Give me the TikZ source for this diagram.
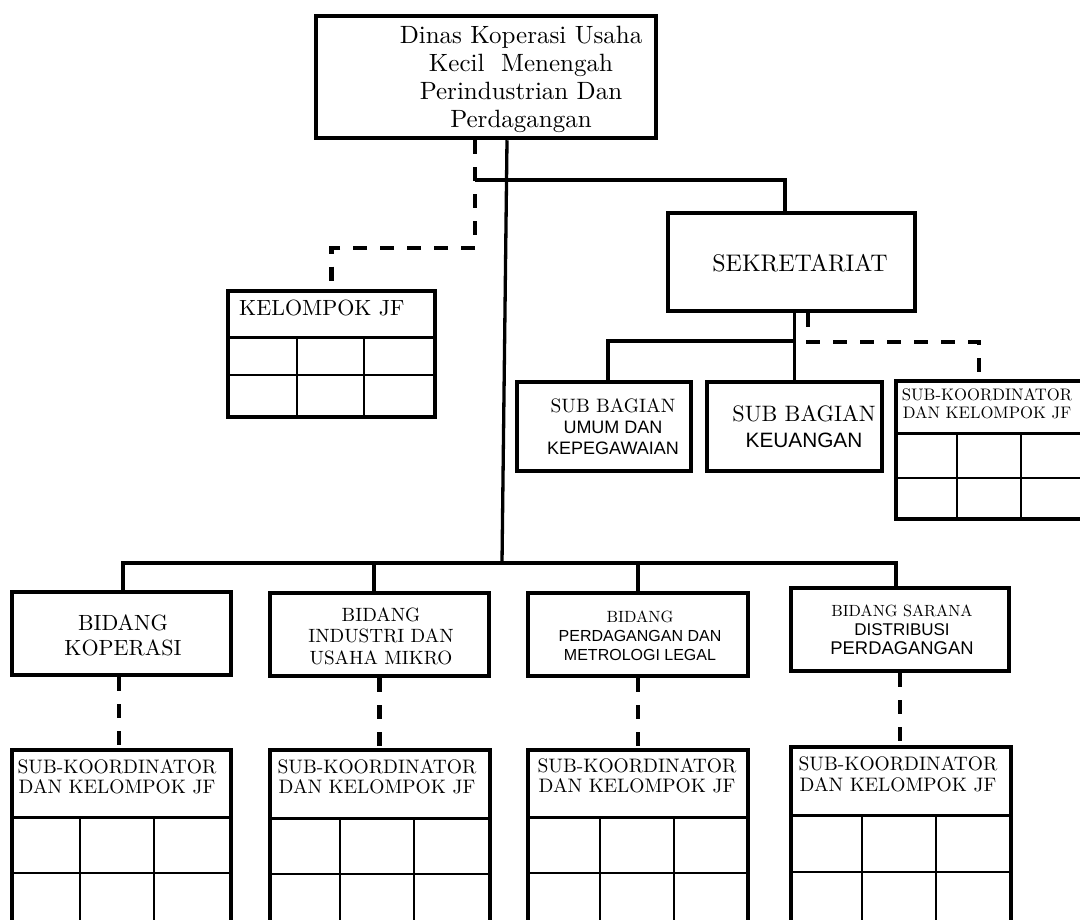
\documentclass[tikz,border=0pt]{standalone}
\usepackage{fontspec}
\setmainfont{lmroman10-regular.otf}
\setsansfont{Liberation Sans}

\tikzset{
  unitbox/.style={draw, line width=4pt, inner sep=0pt},
  boxtext/.style={align=center, inner sep=0pt},
  link/.style={line width=3.3pt},
  jflink/.style={line width=4.5pt, dash pattern=on 14pt off 13pt},
  headline/.style={line width=3pt},
  cellline/.style={line width=2pt}
}

\begin{document}
\begin{tikzpicture}[x=1pt, y=-1pt]

            \useasboundingbox (0,0) rectangle (1080,920);
            \fill[white] (0,0) rectangle (1080,920);

            \node[unitbox, line width=4.5pt, minimum width=340pt, minimum height=122pt] (dinas) at (486,77) {};
            \node[boxtext, font=\fontsize{25}{28}\selectfont] (dinasT) at (521,79) {Dinas Koperasi Usaha\\Kecil\ \ Menengah\\Perindustrian Dan\\Perdagangan};

            \node[unitbox, minimum width=247pt, minimum height=98pt] (sek) at (791.5,262) {};
            \node[boxtext, font=\fontsize{24}{28}\selectfont] (sekT) at (800,263) {SEKRETARIAT};

            \node[unitbox, minimum width=207pt, minimum height=126pt] (kjf) at (331.5,354) {};
            \node[boxtext, anchor=west, font=\fontsize{22}{24}\selectfont] (kjfT) at (239,308) {KELOMPOK JF};
            \draw[headline] (228,338) -- (435,338);
            \draw[cellline] (228,375) -- (435,375);
            \draw[cellline] (297,338) -- (297,417);
            \draw[cellline] (364,338) -- (364,417);

            \node[unitbox, minimum width=174pt, minimum height=89pt] (sbUmum) at (604,426.5) {};
            \node[boxtext, font=\fontsize{18}{21}\selectfont] (sbUmumT) at (613,427) {\fontsize{19.4}{21}\selectfont SUB BAGIAN\\\sffamily UMUM DAN\\\sffamily KEPEGAWAIAN};

            \node[unitbox, minimum width=175pt, minimum height=89pt] (sbKeu) at (794.5,426.5) {};
            \node[boxtext, font=\fontsize{22.3}{26}\selectfont] (sbKeuT) at (804,427) {SUB BAGIAN\\\sffamily\fontsize{20.8}{26}\selectfont KEUANGAN};

            \node[unitbox, minimum width=190pt, minimum height=138pt] (skSek) at (991,450) {};
            \node[boxtext, font=\fontsize{16.7}{18}\selectfont] (skSekT) at (987,404) {SUB-KOORDINATOR\\DAN KELOMPOK JF};
            \draw[headline] (896,433) -- (1086,433);
            \draw[cellline] (896,478) -- (1086,478);
            \draw[cellline] (957,433) -- (957,519);
            \draw[cellline] (1021,433) -- (1021,519);

            \node[unitbox, minimum width=219pt, minimum height=83pt] (bKop) at (121.5,633.5) {};
            \node[boxtext, font=\fontsize{22}{25}\selectfont] (bKopT) at (123,635) {BIDANG\\KOPERASI};

            \node[unitbox, minimum width=219pt, minimum height=83pt] (bInd) at (379.5,634.5) {};
            \node[boxtext, font=\fontsize{19.2}{21.5}\selectfont] (bIndT) at (381,636) {BIDANG\\INDUSTRI DAN\\USAHA MIKRO};

            \node[unitbox, minimum width=220pt, minimum height=83pt] (bDag) at (638,634.5) {};
            \node[boxtext, font=\fontsize{16.3}{19}\selectfont] (bDagT) at (640,636) {BIDANG\\\sffamily\fontsize{16}{19}\selectfont PERDAGANGAN DAN\\\sffamily\fontsize{16}{19}\selectfont METROLOGI LEGAL};

            \node[unitbox, minimum width=218pt, minimum height=83pt] (bSar) at (900,629.5) {};
            \node[boxtext, font=\fontsize{16.2}{19}\selectfont] (bSarT) at (902,630) {BIDANG SARANA\\\sffamily\fontsize{17}{19}\selectfont DISTRIBUSI\\\sffamily\fontsize{18.4}{19}\selectfont PERDAGANGAN};

            \node[unitbox, minimum width=219pt, minimum height=175pt] (jfKop) at (121.5,837.5) {};
            \node[boxtext, font=\fontsize{19.5}{20}\selectfont] (jfKopT) at (117,777) {SUB-KOORDINATOR\\DAN KELOMPOK JF};
            \draw[headline] (12,817) -- (231,817);
            \draw[cellline] (12,873) -- (231,873);
            \draw[cellline] (80,817) -- (80,925);
            \draw[cellline] (154,817) -- (154,925);

            \node[unitbox, minimum width=220pt, minimum height=175pt] (jfInd) at (380,837.5) {};
            \node[boxtext, font=\fontsize{19.5}{20}\selectfont] (jfIndT) at (377,777) {SUB-KOORDINATOR\\DAN KELOMPOK JF};
            \draw[headline] (270,818) -- (490,818);
            \draw[cellline] (270,874) -- (490,874);
            \draw[cellline] (340,818) -- (340,925);
            \draw[cellline] (414,818) -- (414,925);

            \node[unitbox, minimum width=220pt, minimum height=175pt] (jfDag) at (638,837.5) {};
            \node[boxtext, font=\fontsize{19.5}{20}\selectfont] (jfDagT) at (637,776) {SUB-KOORDINATOR\\DAN KELOMPOK JF};
            \draw[headline] (528,817) -- (748,817);
            \draw[cellline] (528,873) -- (748,873);
            \draw[cellline] (600,817) -- (600,925);
            \draw[cellline] (674,817) -- (674,925);

            \node[unitbox, minimum width=220pt, minimum height=178pt] (jfSar) at (901,836) {};
            \node[boxtext, font=\fontsize{19.5}{21}\selectfont] (jfSarT) at (898,774) {SUB-KOORDINATOR\\DAN KELOMPOK JF};
            \draw[headline] (791,815) -- (1011,815);
            \draw[cellline] (791,872) -- (1011,872);
            \draw[cellline] (862,815) -- (862,925);
            \draw[cellline] (936,815) -- (936,925);

            \coordinate (sekJoin) at (475,180);
            \coordinate (trunk) at (502,563);
            \coordinate (sekBus) at (794.5,341);

            \draw[jflink] ([xshift=-11pt]dinas.south) -- ++(0,108) -| (kjf.north);
            \draw[link] (sekJoin) -| ([xshift=-6.5pt]sek.north);
            \draw[link] ([xshift=21pt]dinas.south) -- (trunk);

            \draw[link] (sbKeu.north |- sek.south) -- (sbKeu.north);
            \draw[link] ([xshift=4pt]sbUmum.north) |- (sekBus);
            \draw[jflink] ([xshift=16.5pt]sek.south) -- ++(0,29) -| ([xshift=-12pt]skSek.north);

            \draw[link] ([xshift=1.5pt]bKop.north) |- (trunk) -| ([xshift=-4pt]bSar.north);
            \draw[link] ([xshift=-5.5pt]bInd.north) -- ([xshift=-5.5pt]bInd.north |- trunk);
            \draw[link] (bDag.north) -- (bDag.north |- trunk);

            \draw[jflink] ([xshift=-2.5pt]bKop.south) -- ([xshift=-2.5pt]jfKop.north);
            \draw[jflink] (bInd.south) -- (bInd.south |- jfInd.north);
            \draw[jflink] (bDag.south) -- (jfDag.north);
            \draw[jflink] (bSar.south) -- (bSar.south |- jfSar.north);

\end{tikzpicture}
\end{document}
